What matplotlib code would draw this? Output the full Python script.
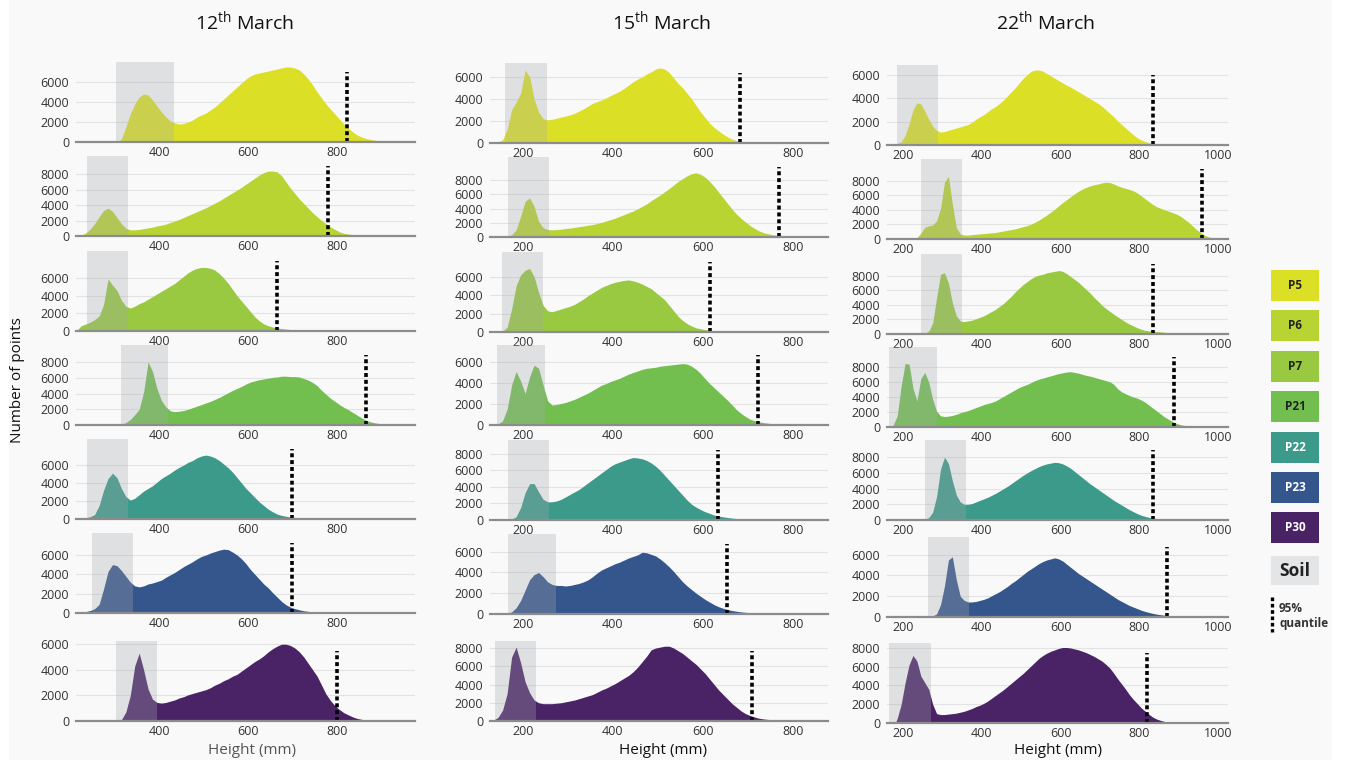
import numpy as np
import matplotlib
matplotlib.use('Agg')
import matplotlib.pyplot as plt
from matplotlib.patches import Rectangle

plt.rcParams['font.family'] = ['Open Sans', 'DejaVu Sans']
plt.rcParams['mathtext.fontset'] = 'custom'
plt.rcParams['mathtext.rm'] = 'Open Sans'
plt.rcParams['mathtext.it'] = 'Open Sans:italic'
plt.rcParams['mathtext.bf'] = 'Open Sans:bold'

# ---- data -------------------------------------------------------------
dates = ['12', '15', '22']
plots = ['P5', 'P6', 'P7', 'P21', 'P22', 'P23', 'P30']
plot_colors = ['#dbe026', '#b8d433', '#98c940', '#72bf50', '#3b9a89', '#34568c', '#4a2367']
bin_width = 10  # mm

# 12th March: counts per 10 mm bin, first bin edge in start_12
start_12 = [300, 220, 210, 310, 220, 210, 300]
h12_p5 = [0, 300, 1500, 2800, 3800, 4500, 4800, 4700, 4200, 3600, 3000, 2500, 2100, 1900, 1800,
          1850, 2000, 2200, 2500, 2700, 2900, 3200, 3500, 3900, 4300, 4700, 5100, 5500, 5900,
          6300, 6600, 6800, 6900, 7000, 7100, 7200, 7300, 7400, 7500, 7500, 7400, 7200, 6800,
          6300, 5700, 5000, 4400, 3800, 3300, 2800, 2300, 1800, 1400, 1000, 700, 500, 350, 250,
          180, 130, 100, 80, 60, 50, 40, 30, 20, 10]
h12_p6 = [100, 400, 900, 1600, 2500, 3300, 3600, 3200, 2400, 1600, 1000, 800, 800, 850, 950,
          1050, 1150, 1300, 1400, 1550, 1750, 1950, 2150, 2400, 2650, 2900, 3150, 3400, 3650,
          3950, 4250, 4550, 4900, 5250, 5600, 5950, 6300, 6700, 7100, 7500, 7900, 8200, 8400,
          8400, 8300, 7800, 7000, 6200, 5500, 4800, 4200, 3600, 3000, 2500, 2000, 1600, 1200,
          850, 550, 350, 250, 180, 130, 100, 80, 60, 40, 30, 20, 20, 15, 10, 10, 10, 10]
h12_p7 = [100, 600, 800, 1000, 1300, 1700, 3000, 5900, 5200, 4600, 3500, 2800, 2600, 2800, 3100,
          3300, 3600, 3900, 4200, 4500, 4800, 5100, 5400, 5800, 6200, 6600, 6900, 7100, 7200,
          7200, 7100, 6900, 6500, 6000, 5400, 4700, 4000, 3400, 2800, 2200, 1600, 1150, 800,
          600, 450, 350, 280, 220, 170, 130, 100, 80, 60, 50, 40, 30, 20, 15]
h12_p21 = [100, 300, 700, 1300, 2000, 4200, 8000, 6800, 4600, 3100, 2300, 1800, 1700, 1750, 1850,
           2000, 2200, 2400, 2600, 2800, 3000, 3250, 3500, 3800, 4100, 4400, 4650, 4900, 5200,
           5450, 5600, 5750, 5850, 5950, 6050, 6100, 6200, 6200, 6150, 6150, 6100, 5900, 5700,
           5400, 5000, 4400, 3900, 3400, 3000, 2600, 2250, 1950, 1600, 1250, 900, 600, 400, 270,
           180, 130, 100, 70, 50, 40, 30, 20]
h12_p22 = [50, 150, 250, 500, 1500, 3200, 4500, 5100, 4600, 3400, 2500, 2100, 2300, 2700, 3100,
           3400, 3700, 4100, 4500, 4800, 5100, 5450, 5750, 6000, 6300, 6500, 6800, 7000, 7100,
           7000, 6800, 6500, 6100, 5700, 5200, 4600, 4000, 3400, 2900, 2400, 1900, 1500, 1100,
           800, 550, 400, 300, 220, 170, 130, 100, 80, 60, 50, 40, 30, 20]
h12_p23 = [50, 100, 150, 250, 450, 900, 2500, 4300, 5000, 4900, 4400, 3800, 3200, 2800, 2700,
           2800, 3000, 3100, 3250, 3400, 3700, 3950, 4200, 4500, 4800, 5050, 5300, 5600, 5850,
           6000, 6200, 6350, 6500, 6600, 6550, 6300, 6000, 5600, 5100, 4500, 4000, 3500, 3000,
           2600, 2100, 1650, 1200, 850, 600, 450, 330, 230, 170, 130, 100, 90, 80, 70, 60, 50,
           45, 40, 30, 20]
h12_p30 = [0, 100, 700, 2000, 4300, 5300, 4000, 2500, 1700, 1450, 1400, 1450, 1550, 1650, 1800,
           1900, 2050, 2150, 2250, 2350, 2450, 2600, 2800, 2950, 3150, 3300, 3500, 3650, 3900,
           4150, 4400, 4650, 4850, 5100, 5400, 5650, 5850, 6000, 6000, 5900, 5700, 5400, 5000,
           4500, 4000, 3500, 2800, 2100, 1600, 1200, 900, 650, 480, 320, 200, 130, 80, 50, 30,
           20, 10]

# 15th March
start_15 = [140, 160, 150, 140, 170, 160, 130]
h15_p5 = [100, 300, 1200, 3000, 3700, 4500, 6600, 6000, 4000, 2800, 2200, 2100, 2150, 2250, 2350,
          2450, 2550, 2700, 2900, 3100, 3350, 3600, 3750, 3900, 4100, 4300, 4500, 4700, 4950,
          5250, 5550, 5800, 6000, 6250, 6450, 6700, 6800, 6700, 6400, 5900, 5400, 5000, 4500,
          4000, 3400, 2800, 2300, 1800, 1400, 1100, 800, 550, 350, 220, 150, 100, 70, 50, 30, 15]
h15_p6 = [100, 300, 1000, 2900, 5000, 5500, 4300, 2200, 1300, 1050, 1000, 1050, 1100, 1200, 1250,
          1350, 1450, 1550, 1650, 1750, 1900, 2050, 2250, 2450, 2650, 2900, 3150, 3400, 3650,
          3950, 4300, 4650, 5100, 5500, 5900, 6350, 6800, 7300, 7800, 8200, 8600, 8900, 9000,
          8800, 8400, 7800, 7100, 6300, 5500, 4700, 3900, 3200, 2600, 2100, 1600, 1200, 850,
          600, 450, 330, 250, 200, 150, 100, 70, 50, 30]
h15_p7 = [100, 500, 2500, 5000, 6200, 6700, 6900, 6000, 4300, 2900, 2300, 2200, 2350, 2500, 2650,
          2800, 3000, 3300, 3600, 3950, 4250, 4550, 4850, 5050, 5250, 5400, 5500, 5600, 5650,
          5550, 5400, 5200, 4950, 4700, 4300, 3900, 3500, 2900, 2300, 1700, 1250, 900, 650,
          450, 350, 250, 200, 150, 120, 100, 80, 60, 50, 40, 30, 20]
h15_p21 = [100, 400, 1500, 3800, 5100, 4200, 3000, 4600, 5700, 5400, 3800, 2300, 1900, 1950,
           2050, 2150, 2300, 2450, 2650, 2850, 3050, 3300, 3550, 3800, 3950, 4150, 4300, 4450,
           4650, 4850, 5000, 5150, 5300, 5400, 5450, 5500, 5600, 5650, 5700, 5750, 5800, 5850,
           5800, 5600, 5300, 4900, 4400, 3950, 3550, 3150, 2750, 2350, 1900, 1450, 1100, 800,
           550, 400, 300, 220, 170, 130, 100, 80, 60, 45, 30, 20]
h15_p22 = [100, 400, 1500, 3300, 4400, 4400, 3400, 2500, 2200, 2200, 2300, 2500, 2800, 3100,
           3400, 3700, 4100, 4500, 4900, 5300, 5700, 6100, 6500, 6800, 7000, 7200, 7400, 7550,
           7500, 7400, 7200, 6900, 6500, 6000, 5400, 4800, 4200, 3600, 3000, 2400, 1900, 1550,
           1250, 1000, 800, 600, 480, 380, 300, 230, 180, 140, 110, 90, 70, 50, 40, 30, 20]
h15_p23 = [50, 200, 600, 1300, 2300, 3300, 3800, 4000, 3600, 3100, 2850, 2750, 2750, 2700, 2750,
           2850, 2950, 3100, 3300, 3600, 3950, 4250, 4450, 4650, 4850, 5000, 5200, 5400, 5550,
           5700, 5950, 5900, 5750, 5600, 5300, 4950, 4550, 4100, 3600, 3100, 2700, 2350, 2000,
           1700, 1400, 1150, 900, 700, 550, 430, 330, 260, 200, 160, 130, 110, 90, 70, 50, 30,
           20]
h15_p30 = [100, 400, 1200, 3000, 7000, 8100, 6400, 4300, 3100, 2300, 2000, 1900, 1900, 1900,
           1950, 2000, 2100, 2200, 2300, 2450, 2600, 2750, 2900, 3150, 3400, 3600, 3850, 4100,
           4400, 4700, 5000, 5400, 5900, 6500, 7100, 7800, 8000, 8100, 8200, 8200, 8000, 7700,
           7400, 7000, 6600, 6200, 5700, 5200, 4600, 4000, 3400, 2900, 2400, 1900, 1500, 1100,
           800, 600, 430, 300, 220, 170, 130, 100, 70, 50, 40, 30, 20]

# 22th March
start_22 = [180, 230, 250, 170, 250, 270, 180]
h22_p5 = [100, 300, 800, 1800, 3000, 3600, 3500, 2900, 2200, 1600, 1250, 1100, 1150, 1250, 1350,
          1450, 1550, 1650, 1750, 1950, 2200, 2400, 2600, 2850, 3100, 3300, 3550, 3850, 4200,
          4550, 4900, 5300, 5700, 6000, 6300, 6400, 6400, 6300, 6100, 5900, 5700, 5500, 5300,
          5100, 4950, 4750, 4550, 4350, 4150, 3950, 3750, 3550, 3300, 3000, 2700, 2400, 2050,
          1750, 1450, 1150, 850, 600, 430, 300, 200, 130, 80, 50, 30, 15]
h22_p6 = [200, 800, 1600, 1800, 1900, 2500, 4200, 7800, 8600, 4800, 1600, 700, 550, 550, 600,
          650, 700, 750, 800, 850, 900, 1000, 1100, 1200, 1300, 1400, 1550, 1700, 1850, 2050,
          2300, 2600, 2950, 3300, 3700, 4100, 4550, 5000, 5400, 5800, 6200, 6550, 6850, 7100,
          7300, 7450, 7550, 7700, 7800, 7750, 7550, 7300, 7100, 6950, 6800, 6600, 6300, 5900,
          5500, 5100, 4700, 4400, 4200, 4000, 3800, 3600, 3400, 3100, 2700, 2300, 1800, 1300,
          900, 550, 300, 150, 80, 40, 20]
h22_p7 = [100, 400, 1500, 5000, 8200, 8400, 7000, 4300, 2500, 1800, 1700, 1800, 1900, 2100,
          2300, 2500, 2800, 3100, 3400, 3800, 4200, 4700, 5200, 5800, 6300, 6800, 7200, 7600,
          7900, 8100, 8200, 8400, 8500, 8600, 8700, 8600, 8300, 7900, 7500, 7100, 6600, 6100,
          5600, 5000, 4500, 3950, 3500, 3100, 2700, 2350, 2000, 1650, 1350, 1100, 850, 650,
          500, 420, 370, 330, 280, 230, 190, 160, 140, 110, 80, 50, 30]
h22_p21 = [300, 1500, 5500, 8500, 8400, 5200, 3500, 6500, 7300, 6000, 3700, 2100, 1500, 1400,
           1450, 1550, 1700, 1900, 2050, 2200, 2400, 2600, 2800, 3000, 3150, 3300, 3500, 3800,
           4100, 4400, 4700, 5000, 5300, 5500, 5700, 5950, 6200, 6400, 6550, 6700, 6850, 7000,
           7150, 7250, 7350, 7400, 7300, 7200, 7050, 6900, 6800, 6650, 6500, 6350, 6200, 6050,
           5700, 5100, 4700, 4450, 4200, 4000, 3850, 3600, 3300, 2900, 2500, 2100, 1700, 1300,
           1000, 700, 450, 300, 200, 150, 120, 100, 80, 60, 40, 20]
h22_p22 = [100, 300, 1000, 3000, 6500, 8000, 7200, 5000, 3200, 2300, 2000, 2000, 2100, 2300,
           2500, 2700, 2900, 3150, 3400, 3700, 4000, 4300, 4650, 5000, 5350, 5700, 6000, 6300,
           6550, 6800, 7000, 7150, 7250, 7350, 7300, 7150, 6900, 6600, 6200, 5800, 5400, 5000,
           4600, 4250, 3900, 3550, 3200, 2850, 2500, 2200, 1900, 1600, 1300, 1050, 800, 600,
           450, 330, 240, 180, 130, 100, 80, 60, 40, 30, 20]
h22_p23 = [100, 300, 1200, 3000, 5500, 5800, 3600, 2000, 1600, 1450, 1450, 1500, 1600, 1700,
           1850, 2050, 2250, 2450, 2700, 2950, 3250, 3500, 3800, 4100, 4400, 4650, 4900, 5150,
           5350, 5500, 5600, 5700, 5600, 5400, 5100, 4800, 4500, 4200, 3950, 3700, 3450, 3200,
           2950, 2700, 2450, 2200, 1950, 1700, 1500, 1300, 1100, 950, 800, 650, 530, 430, 340,
           270, 210, 170, 140, 110, 90, 70, 50, 40, 30, 20]
h22_p30 = [500, 2000, 4300, 6200, 7200, 6600, 5000, 4300, 3600, 2000, 1000, 900, 900, 950, 1000,
           1050, 1150, 1250, 1400, 1550, 1750, 1900, 2100, 2350, 2650, 2950, 3250, 3550, 3900,
           4250, 4600, 4950, 5300, 5700, 6100, 6500, 6900, 7200, 7450, 7650, 7800, 7950, 8050,
           8050, 8000, 7900, 7800, 7650, 7500, 7300, 7100, 6850, 6600, 6250, 5850, 5300, 4700,
           4150, 3600, 3000, 2500, 2050, 1600, 1250, 900, 600, 400, 260, 150, 90, 50, 30, 20]

hists = {
    '12': [h12_p5, h12_p6, h12_p7, h12_p21, h12_p22, h12_p23, h12_p30],
    '15': [h15_p5, h15_p6, h15_p7, h15_p21, h15_p22, h15_p23, h15_p30],
    '22': [h22_p5, h22_p6, h22_p7, h22_p21, h22_p22, h22_p23, h22_p30],
}
starts = {'12': start_12, '15': start_15, '22': start_22}

# soil height range (mm) shaded in grey
soil_12 = [(303, 434), (238, 330), (238, 330), (315, 420), (238, 330), (250, 342), (303, 395)]
soil_15 = [(160, 254), (167, 258), (154, 245), (143, 249), (167, 258), (167, 274), (138, 229)]
soil_22 = [(184, 288), (245, 349), (245, 349), (164, 286), (255, 360), (263, 367), (164, 271)]
soils = {'12': soil_12, '15': soil_15, '22': soil_22}

# 95% quantile of height (mm)
q95_12 = [822, 780, 665, 865, 699, 699, 800]
q95_15 = [683, 769, 616, 722, 634, 654, 709]
q95_22 = [834, 958, 834, 887, 834, 870, 819]
q95s = {'12': q95_12, '15': q95_15, '22': q95_22}

# y axis upper limit and last labelled tick per panel
ylim_12 = [8000, 10350, 9060, 10160, 8890, 8270, 6250]
ylim_15 = [7250, 11230, 8680, 7620, 9670, 7710, 8770]
ylim_22 = [6830, 10980, 10980, 10700, 10190, 7710, 8530]
ylims = {'12': ylim_12, '15': ylim_15, '22': ylim_22}
ytop_12 = [6000, 8000, 6000, 8000, 6000, 6000, 6000]
ytop_15 = [6000, 8000, 6000, 6000, 8000, 6000, 8000]
ytop_22 = [6000, 8000, 8000, 8000, 8000, 6000, 8000]
ytops = {'12': ytop_12, '15': ytop_15, '22': ytop_22}

xlims = {'12': (213, 975), '15': (127, 878), '22': (159, 1025)}
xticks = {'12': [400, 600, 800], '15': [200, 400, 600, 800], '22': [200, 400, 600, 800, 1000]}

# ---- layout (pixels) -----------------------------------------------------
W, H = 1349, 765
col_left = [76, 490, 887]
col_width = [339, 338, 341]
baselines = [[142, 236, 331, 425, 519, 613, 721],
             [143, 237, 332, 425, 520, 614, 721],
             [145, 239, 334, 427, 520, 617, 723]]
panel_h = 80

fig = plt.figure(figsize=(W / 100, H / 100), dpi=100)
fig.patch.set_facecolor('white')

bg = fig.add_axes([0, 0, 1, 1], zorder=-1)
bg.set_xlim(0, W)
bg.set_ylim(H, 0)
bg.axis('off')
bg.add_patch(Rectangle((9, 0), 1323, 760, color='#f9f9f9', lw=0))

for ci, d in enumerate(dates):
    for ri in range(len(plots)):
        b = baselines[ci][ri]
        ax = fig.add_axes([col_left[ci] / W, (H - b) / H, col_width[ci] / W, panel_h / H])
        ax.set_facecolor('none')

        # histogram outline through the bin centres, closed at the outer bin edges
        vals = np.array(hists[d][ri])
        centres = starts[d][ri] + bin_width * (np.arange(len(vals)) + 0.5)
        xs = np.concatenate([[centres[0] - bin_width / 2], centres, [centres[-1] + bin_width / 2]])
        ys = np.concatenate([[0], vals, [0]])
        ax.fill_between(xs, 0, ys, color=plot_colors[ri], lw=0, zorder=2)

        lo, hi = soils[d][ri]
        ax.axvspan(lo, hi, color='#a5a8ad', alpha=0.3, lw=0, zorder=3)

        ax.axvline(q95s[d][ri], ymin=0, ymax=0.87, color='black', lw=2.6,
                   linestyle=(0, (1.1, 0.8)), zorder=4)

        ax.set_xlim(*xlims[d])
        ax.set_ylim(0, ylims[d][ri])
        yt = np.arange(0, ytops[d][ri] + 1, 2000)
        ax.set_yticks(yt)
        ax.set_yticklabels([str(v) for v in yt])
        ax.set_xticks(xticks[d])
        ax.set_xticklabels([str(v) for v in xticks[d]])
        ax.tick_params(length=0, labelsize=9, labelcolor='#333333')
        ax.tick_params(axis='y', pad=5)
        ax.tick_params(axis='x', pad=3)
        ax.grid(axis='y', color='#e3e3e3', lw=0.8, zorder=0)
        ax.set_axisbelow(True)
        for s in ['top', 'right', 'left']:
            ax.spines[s].set_visible(False)
        ax.spines['bottom'].set_color('#8c8c8c')
        ax.spines['bottom'].set_linewidth(1.6)
        ax.spines['bottom'].set_zorder(5)

# column titles and axis labels
title_x = [245, 662, 1046]
xlabel_x = [252, 663, 1058]
for ci, d in enumerate(dates):
    bg.text(title_x[ci], 22, d + r'$^{\mathrm{th}}$ March', ha='center', va='center',
            fontsize=14, color='#111111')
    bg.text(xlabel_x[ci], 750, 'Height (mm)', ha='center', va='center',
            fontsize=11, color='#555555' if ci == 0 else '#111111')
bg.text(18, 380, 'Number of points', rotation=90, ha='center', va='center',
        fontsize=11, color='#111111')

# legend
for i, p in enumerate(plots):
    y0 = 270 + 40.4 * i
    bg.add_patch(Rectangle((1271, y0), 48, 31, color=plot_colors[i], lw=0))
    bg.text(1295, y0 + 15.5, p, ha='center', va='center', fontsize=8.5, fontweight='bold',
            color='white' if i >= 4 else '#222222')
bg.add_patch(Rectangle((1271, 556), 48, 29, color='#e4e5e7', lw=0))
bg.text(1295, 570.5, 'Soil', ha='center', va='center', fontsize=12.5, fontweight='bold',
        color='#222222')
bg.plot([1271.5, 1271.5], [597, 632], color='black', lw=2.4, linestyle=(0, (1.1, 0.8)))
bg.text(1279, 609, '95%', ha='left', va='center', fontsize=8.5, fontweight='bold', color='#333333')
bg.text(1279, 623, 'quantile', ha='left', va='center', fontsize=8.5, fontweight='bold',
        color='#333333')

fig.savefig('out.png', dpi=100)
